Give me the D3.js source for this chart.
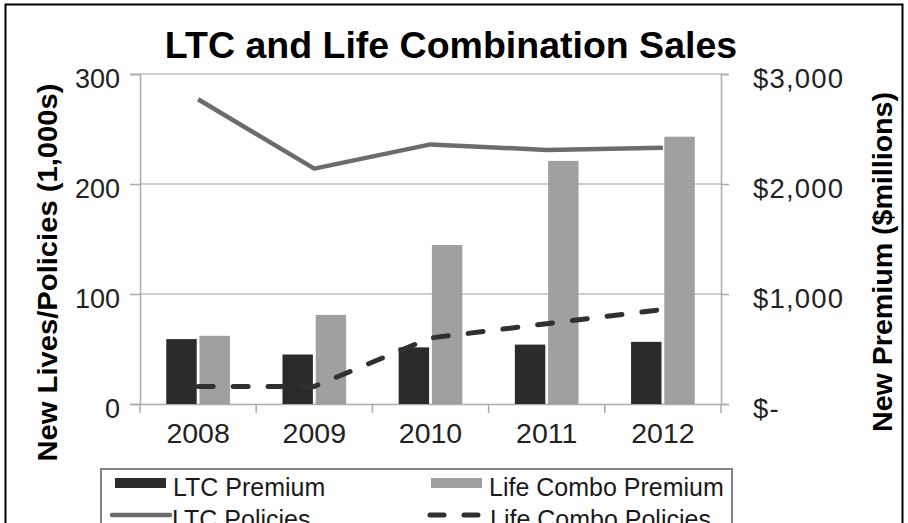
<!DOCTYPE html>
<html><head><meta charset="utf-8">
<script src="https://cdn.jsdelivr.net/npm/d3@7"></script>
<style>
html,body{margin:0;padding:0;background:#fff;}
svg{display:block;font-family:"Liberation Sans",Arial,sans-serif;}
</style></head>
<body><svg id="c" width="908" height="523"></svg>
<script>
const years = ["2008","2009","2010","2011","2012"];
const ltcPremium = [590, 450, 515, 540, 565];
const lifeComboPremium = [620, 810, 1445, 2210, 2430];
const ltcPolicies = [277, 214, 236, 231, 233];
const lifeComboPolicies = [16, 16, 60, 73, 86];
const leftTicks = [0, 100, 200, 300];
const rightTicks = [0, 1000, 2000, 3000];
const rightTickLabels = ["$-", "$1,000", "$2,000", "$3,000"];

const svg = d3.select("#c");
const L = 140, R = 721, T = 74, B = 404;

const x = d3.scaleBand().domain(years).range([L, R]).padding(0);
const yL = d3.scaleLinear().domain([0, 300]).range([B, T]);
const yR = d3.scaleLinear().domain([0, 3000]).range([B, T]);

// outer border
svg.append("rect").attr("x", 5.5).attr("y", 4.5).attr("width", 897).attr("height", 530)
  .attr("fill", "none").attr("stroke", "#000").attr("stroke-width", 2);

// title
svg.append("text").attr("x", 451).attr("y", 57.5).attr("text-anchor", "middle")
  .attr("font-weight", "bold").attr("font-size", 37.5).attr("fill", "#000")
  .text("LTC and Life Combination Sales");

// gridlines
svg.append("g").selectAll("line").data(leftTicks.slice(1)).join("line")
  .attr("x1", L).attr("x2", R).attr("y1", d => yL(d)).attr("y2", d => yL(d))
  .attr("stroke", "#bdbdbd").attr("stroke-width", 1.5);

// left axis
const gL = svg.append("g").attr("transform", `translate(${L},0)`)
  .call(d3.axisLeft(yL).tickValues(leftTicks).tickSize(10).tickPadding(10).tickFormat(d3.format("d")));
gL.select(".domain").attr("stroke", "#ababab").attr("stroke-width", 1.5);
gL.selectAll(".tick line").attr("stroke", "#ababab").attr("stroke-width", 1.5);
gL.selectAll(".tick text").attr("font-size", 27).attr("fill", "#222").attr("font-family", "Liberation Sans, Arial, sans-serif").attr("dy", "0.5em");

// right axis
const gR = svg.append("g").attr("transform", `translate(${R},0)`)
  .call(d3.axisRight(yR).tickValues(rightTicks).tickSize(8).tickPadding(24).tickFormat((d, i) => rightTickLabels[i]));
gR.select(".domain").attr("stroke", "#ababab").attr("stroke-width", 1.5);
gR.selectAll(".tick line").attr("stroke", "#ababab").attr("stroke-width", 1.5);
gR.selectAll(".tick text").attr("font-size", 27.5).attr("letter-spacing", 1.2).attr("fill", "#222").attr("font-family", "Liberation Sans, Arial, sans-serif").attr("dy", "0.5em");

// bottom axis
const gB = svg.append("g").attr("transform", `translate(0,${B})`)
  .call(d3.axisBottom(x).tickSize(0).tickPadding(30));
gB.select(".domain").attr("stroke", "#ababab").attr("stroke-width", 1.5);
gB.selectAll(".tick text").attr("font-size", 28.5).attr("fill", "#222").attr("font-family", "Liberation Sans, Arial, sans-serif").attr("dy", "0.3em");
svg.append("g").selectAll("line").data(years.concat(["end"])).join("line")
  .attr("x1", (d, i) => L + i * x.bandwidth()).attr("x2", (d, i) => L + i * x.bandwidth())
  .attr("y1", B).attr("y2", B + 9).attr("stroke", "#ababab").attr("stroke-width", 1.5);

// bars
const bw = x.bandwidth() * 0.262, gap = x.bandwidth() * 0.024;
svg.append("g").selectAll("rect").data(years).join("rect")
  .attr("x", d => x(d) + x.bandwidth() / 2 - gap / 2 - bw)
  .attr("width", bw)
  .attr("y", (d, i) => yR(ltcPremium[i]))
  .attr("height", (d, i) => B - yR(ltcPremium[i]))
  .attr("fill", "#2b2b2b");
svg.append("g").selectAll("rect").data(years).join("rect")
  .attr("x", d => x(d) + x.bandwidth() / 2 + gap / 2)
  .attr("width", bw)
  .attr("y", (d, i) => yR(lifeComboPremium[i]))
  .attr("height", (d, i) => B - yR(lifeComboPremium[i]))
  .attr("fill", "#a0a0a0");

// lines
const cx = d => x(d) + x.bandwidth() / 2;
svg.append("path").datum(years)
  .attr("d", d3.line().x(cx).y((d, i) => yL(ltcPolicies[i])))
  .attr("fill", "none").attr("stroke", "#6c6c6c").attr("stroke-width", 4.5).attr("stroke-linejoin", "round");
svg.append("path").datum(years)
  .attr("d", d3.line().x(cx).y((d, i) => yL(lifeComboPolicies[i])))
  .attr("fill", "none").attr("stroke", "#303030").attr("stroke-width", 5)
  .attr("stroke-dasharray", "15 20").attr("stroke-linecap", "round").attr("stroke-linejoin", "round");

// axis titles
svg.append("text").attr("transform", "translate(57,272.5) rotate(-90)").attr("text-anchor", "middle")
  .attr("font-weight", "bold").attr("font-size", 28).attr("fill", "#000")
  .attr("textLength", 378).attr("lengthAdjust", "spacingAndGlyphs")
  .text("New Lives/Policies (1,000s)");
svg.append("text").attr("transform", "translate(892,262) rotate(-90)").attr("text-anchor", "middle")
  .attr("font-weight", "bold").attr("font-size", 28).attr("fill", "#000")
  .attr("textLength", 340).attr("lengthAdjust", "spacingAndGlyphs")
  .text("New Premium ($millions)");

// legend
svg.append("rect").attr("x", 101).attr("y", 469).attr("width", 631).attr("height", 80)
  .attr("fill", "#fff").attr("stroke", "#777").attr("stroke-width", 1.8);
const legend = [
  {name: "LTC Premium", type: "bar", color: "#2b2b2b", x: 115, y: 483},
  {name: "Life Combo Premium", type: "bar", color: "#a0a0a0", x: 431, y: 483},
  {name: "LTC Policies", type: "line", color: "#6c6c6c", x: 112, y: 515},
  {name: "Life Combo Policies", type: "dash", color: "#303030", x: 430, y: 515}
];
const lg = svg.append("g").selectAll("g").data(legend).join("g");
lg.filter(d => d.type === "bar").append("rect")
  .attr("x", d => d.x).attr("y", d => d.y - 5).attr("width", 51).attr("height", 10).attr("fill", d => d.color);
lg.filter(d => d.type === "line").append("line")
  .attr("x1", d => d.x).attr("x2", d => d.x + 58).attr("y1", d => d.y).attr("y2", d => d.y)
  .attr("stroke", d => d.color).attr("stroke-width", 4.5).attr("stroke-linecap", "round");
lg.filter(d => d.type === "dash").append("line")
  .attr("x1", d => d.x).attr("x2", d => d.x + 51).attr("y1", d => d.y).attr("y2", d => d.y)
  .attr("stroke", d => d.color).attr("stroke-width", 5).attr("stroke-dasharray", "14 20").attr("stroke-linecap", "round");
lg.append("text").attr("x", d => d.type === "bar" ? d.x + 58 : d.x + 60).attr("y", d => d.y + 13)
  .attr("font-size", 25).attr("fill", "#1a1a1a").text(d => d.name);
</script></body></html>
